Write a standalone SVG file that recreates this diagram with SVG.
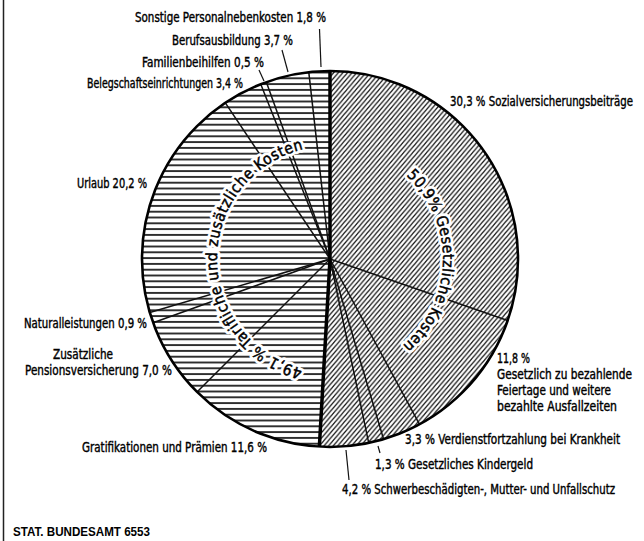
<svg xmlns="http://www.w3.org/2000/svg" xmlns:xlink="http://www.w3.org/1999/xlink" width="644" height="541" viewBox="0 0 644 541">
<defs>
<pattern id="hHatch" patternUnits="userSpaceOnUse" width="20" height="5.8">
<line x1="0" y1="2.9" x2="20" y2="2.9" stroke="#111" stroke-width="1.7"/>
</pattern>
<pattern id="dHatch" patternUnits="userSpaceOnUse" width="4.6" height="5.4">
<line x1="-4.6" y1="10.8" x2="9.2" y2="-5.4" stroke="#111" stroke-width="1.3"/>
<line x1="-4.6" y1="5.4" x2="4.6" y2="-5.4" stroke="#111" stroke-width="1.3"/>
<line x1="0" y1="10.8" x2="9.2" y2="0" stroke="#111" stroke-width="1.3"/>
</pattern>
<path id="arcL" d="M302.66,368.64 A113,113 0 0 1 310.38,147.72"/>
<path id="arcR" d="M406.34,175.69 A113,113 0 0 1 399.57,348.05"/>
</defs>
<style>
.lbl{font-family:"Liberation Sans Narrow","DejaVu Sans Condensed","Liberation Sans",sans-serif;font-size:13.5px;fill:#000;stroke:#000;stroke-width:0.4}
.bold{font-weight:bold;font-family:"Liberation Sans","DejaVu Sans",sans-serif;font-size:12.5px;stroke:none}
.arcbg{font-family:"Liberation Sans Narrow","DejaVu Sans Condensed","Liberation Sans",sans-serif;font-size:15.5px;fill:#fff;stroke:#fff;stroke-width:6;stroke-linejoin:round}
.arcfg{font-family:"Liberation Sans Narrow","DejaVu Sans Condensed","Liberation Sans",sans-serif;font-size:15.5px;fill:#000;stroke:#000;stroke-width:0.45}
.seg{stroke:#111;stroke-width:1.5;fill:none}
.tick{stroke:#111;stroke-width:1.2;fill:none}
.div{stroke:#000;stroke-width:3.5;fill:none}
</style>
<rect x="0" y="0" width="644" height="541" fill="#fff"/>
<line x1="3.5" y1="0" x2="3.5" y2="541" stroke="#222" stroke-width="1.5"/>

<g id="pie">
<path id="half-gesetzlich" d="M330,259 L330,71 A188,188 0 1 1 319.37,446.70 Z" fill="url(#dHatch)"/>
<path id="half-tariflich" d="M330,259 L319.37,446.70 A188,188 0 0 1 330,71 Z" fill="url(#hHatch)"/>
</g>

<g id="connectors">
<line class="seg" x1="330" y1="259" x2="507.67" y2="320.45"/>
<line class="seg" x1="330" y1="259" x2="419.54" y2="424.31"/>
<line class="seg" x1="330" y1="259" x2="383.58" y2="439.20"/>
<line class="seg" x1="330" y1="259" x2="368.70" y2="442.97"/>
<line class="seg" x1="330" y1="259" x2="197.06" y2="391.94"/>
<line class="seg" x1="330" y1="259" x2="153.11" y2="322.68"/>
<line class="seg" x1="330" y1="259" x2="149.80" y2="312.58"/>
<line class="seg" x1="330" y1="259" x2="225.33" y2="102.84"/>
<line class="seg" x1="330" y1="259" x2="260.79" y2="84.20"/>
<line class="seg" x1="330" y1="259" x2="266.32" y2="82.11"/>
<line class="seg" x1="330" y1="259" x2="308.78" y2="72.20"/>
<polyline class="div" points="330,71 330,259 319.37,446.70"/>
<circle cx="330" cy="259" r="188" fill="none" stroke="#000" stroke-width="2.6"/>
<line class="tick" x1="319.5" y1="29" x2="321" y2="67"/>
<line class="tick" x1="282" y1="50" x2="288" y2="72"/>
<line class="tick" x1="259" y1="70" x2="264" y2="81"/>
<line class="tick" x1="378" y1="446" x2="380" y2="453"/>
<line class="tick" x1="346" y1="450" x2="349" y2="480"/>
</g>

<g id="arc-tariflich">
<text class="arcbg"><textPath xlink:href="#arcL" href="#arcL" textLength="300" lengthAdjust="spacing">49,1 % Tarifliche und zusätzliche Kosten</textPath></text>
<text class="arcfg"><textPath xlink:href="#arcL" href="#arcL" textLength="300" lengthAdjust="spacing">49,1 % Tarifliche und zusätzliche Kosten</textPath></text>
</g>
<g id="arc-gesetzlich">
<text class="arcbg"><textPath xlink:href="#arcR" href="#arcR" textLength="192" lengthAdjust="spacing">50,9% Gesetzliche Kosten</textPath></text>
<text class="arcfg"><textPath xlink:href="#arcR" href="#arcR" textLength="192" lengthAdjust="spacing">50,9% Gesetzliche Kosten</textPath></text>
</g>

<g id="label-sonstige"><text class="lbl" transform="translate(135,22) scale(0.8,1)" textLength="238.75" lengthAdjust="spacingAndGlyphs">Sonstige Personalnebenkosten 1,8 %</text></g>
<g id="label-beruf"><text class="lbl" transform="translate(172,45) scale(0.8,1)" textLength="151.25" lengthAdjust="spacingAndGlyphs">Berufsausbildung 3,7 %</text></g>
<g id="label-familien"><text class="lbl" transform="translate(142,67) scale(0.8,1)" textLength="152.5" lengthAdjust="spacingAndGlyphs">Familienbeihilfen 0,5 %</text></g>
<g id="label-beleg"><text class="lbl" transform="translate(87,88) scale(0.8,1)" textLength="195" lengthAdjust="spacingAndGlyphs">Belegschaftseinrichtungen 3,4 %</text></g>
<g id="label-sozial"><text class="lbl" transform="translate(450,106) scale(0.8,1)" textLength="228.75" lengthAdjust="spacingAndGlyphs">30,3 % Sozialversicherungsbeiträge</text></g>
<g id="label-urlaub"><text class="lbl" transform="translate(77,188) scale(0.8,1)" textLength="87.5" lengthAdjust="spacingAndGlyphs">Urlaub 20,2 %</text></g>
<g id="label-natural"><text class="lbl" transform="translate(24,328) scale(0.8,1)" textLength="153.75" lengthAdjust="spacingAndGlyphs">Naturalleistungen 0,9 %</text></g>
<g id="label-pension">
<text class="lbl" transform="translate(53,359) scale(0.8,1)" textLength="75" lengthAdjust="spacingAndGlyphs">Zusätzliche</text>
<text class="lbl" transform="translate(25,375) scale(0.8,1)" textLength="183.75" lengthAdjust="spacingAndGlyphs">Pensionsversicherung 7,0 %</text>
</g>
<g id="label-grati"><text class="lbl" transform="translate(82,452) scale(0.8,1)" textLength="231.25" lengthAdjust="spacingAndGlyphs">Gratifikationen und Prämien 11,6 %</text></g>
<g id="label-feiertage">
<text class="lbl" transform="translate(497,363) scale(0.8,1)" textLength="41.25" lengthAdjust="spacingAndGlyphs">11,8 %</text>
<text class="lbl" transform="translate(497,378.5) scale(0.8,1)" textLength="168.75" lengthAdjust="spacingAndGlyphs">Gesetzlich zu bezahlende</text>
<text class="lbl" transform="translate(497,395) scale(0.8,1)" textLength="142.5" lengthAdjust="spacingAndGlyphs">Feiertage und weitere</text>
<text class="lbl" transform="translate(497,411) scale(0.8,1)" textLength="150" lengthAdjust="spacingAndGlyphs">bezahlte Ausfallzeiten</text>
</g>
<g id="label-krankheit"><text class="lbl" transform="translate(405,444) scale(0.8,1)" textLength="268.75" lengthAdjust="spacingAndGlyphs">3,3 % Verdienstfortzahlung bei Krankheit</text></g>
<g id="label-kindergeld"><text class="lbl" transform="translate(375,469) scale(0.8,1)" textLength="197.5" lengthAdjust="spacingAndGlyphs">1,3 % Gesetzliches Kindergeld</text></g>
<g id="label-schwer"><text class="lbl" transform="translate(342,494) scale(0.8,1)" textLength="341.25" lengthAdjust="spacingAndGlyphs">4,2 % Schwerbeschädigten-, Mutter- und Unfallschutz</text></g>
<g id="source"><text class="lbl bold" x="13" y="536" textLength="137" lengthAdjust="spacingAndGlyphs">STAT. BUNDESAMT 6553</text></g>
</svg>
